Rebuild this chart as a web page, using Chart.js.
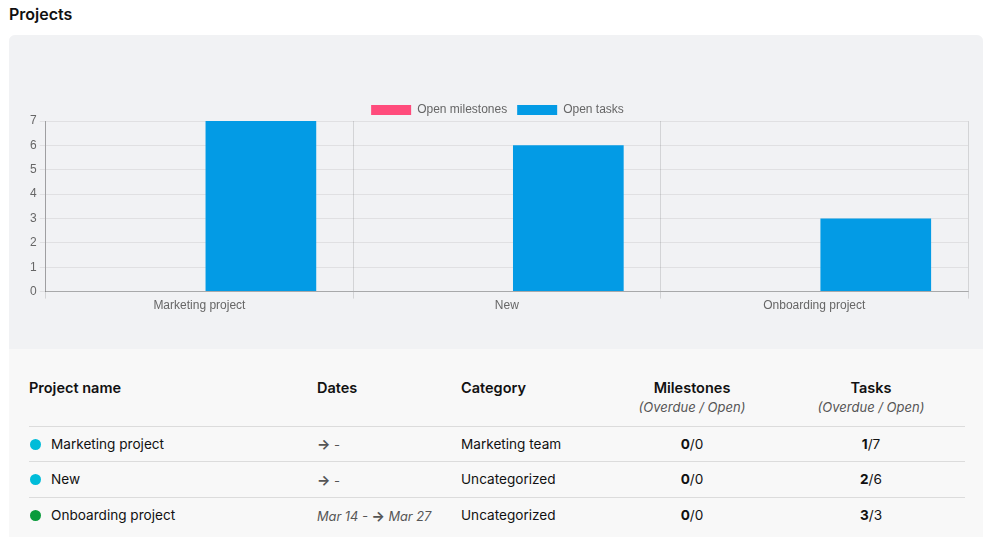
<!DOCTYPE html>
<html>
<head>
<meta charset="utf-8">
<script src="https://cdn.jsdelivr.net/npm/chart.js@4/dist/chart.umd.min.js"></script>
<style>
    html, body { margin: 0; padding: 0; background: #fff; }
    body { width: 983px; height: 537px; overflow: hidden; font-family: Inter, "Noto Sans", sans-serif; color: #111; }
    h2 { position: absolute; left: 9px; top: 4px; margin: 0; font-size: 16px; font-weight: 600; }
    .panel { position: absolute; left: 9px; top: 35px; width: 974px; height: 502px; background: #f8f8f8; border-radius: 6px 6px 0 0; overflow: hidden; }
    .chart-box { position: relative; width: 974px; height: 314px; background: #f1f2f4; }
    table { position: absolute; left: 20px; top: 334px; width: 936px; border-collapse: collapse; font-size: 13.6px; }
    th { font-weight: 600; font-size: 14.5px; text-align: left; padding: 10px 0 0 0; }
    th.c, td.c { text-align: center; }
    .sub { font-style: italic; font-weight: 400; font-size: 13px; color: #555; display: block; margin-top: 3px; }
    thead tr { height: 57px; vertical-align: top; }
    tbody tr { height: 35.5px; border-top: 1px solid #dcdcdc; }
    td { padding: 0; vertical-align: middle; }
    .dot { display: inline-block; width: 11px; height: 11px; border-radius: 50%; margin: 0 10px 0 1px; vertical-align: -1px; }
    .dates { color: #555; font-style: italic; font-size: 12.8px; }
    .arr { font-style: normal; font-weight: 700; font-size: 14px; }
</style>
</head>
<body>
<h2>Projects</h2>
<div class="panel">
    <div class="chart-box"><canvas id="projectsChart"></canvas></div>
    <table>
        <thead>
            <tr>
                <th style="width:288px">Project name</th>
                <th style="width:144px">Dates</th>
                <th style="width:146px">Category</th>
                <th class="c" style="width:170px">Milestones<span class="sub">(Overdue / Open)</span></th>
                <th class="c">Tasks<span class="sub">(Overdue / Open)</span></th>
            </tr>
        </thead>
        <tbody id="rows"></tbody>
    </table>
</div>
<script>
    const projects = ['Marketing project', 'New', 'Onboarding project'];
    const openMilestones = [0, 0, 0];
    const openTasks = [7, 6, 3];
    const overdueMilestones = [0, 0, 0];
    const overdueTasks = [1, 2, 3];
    const categories = ['Marketing team', 'Uncategorized', 'Uncategorized'];
    const dates = [['', ''], ['', ''], ['Mar 14', 'Mar 27']];
    const dotColors = ['#00bcd9', '#00bcd9', '#0a9b3b'];

    // table rows
    const rows = document.getElementById('rows');
    projects.forEach((name, i) => {
        const tr = document.createElement('tr');
        const [from, to] = dates[i];
        const dateHtml = from
            ? `${from} - <span class="arr">&#8594;</span> ${to}`
            : `<span class="arr">&#8594;</span> -`;
        tr.innerHTML = `
            <td><span class="dot" style="background:${dotColors[i]}"></span>${name}</td>
            <td class="dates">${dateHtml}</td>
            <td>${categories[i]}</td>
            <td class="c"><b>${overdueMilestones[i]}</b>/${openMilestones[i]}</td>
            <td class="c"><b>${overdueTasks[i]}</b>/${openTasks[i]}</td>`;
        rows.appendChild(tr);
    });

    Chart.defaults.font.family = '"Liberation Sans", Arial, sans-serif';
    Chart.defaults.font.size = 12;
    Chart.defaults.color = '#666';

    // pull the chart area up under the legend a little
    const tightLegend = {
        id: 'tightLegend',
        beforeInit(chart) {
            const fit = chart.legend.fit;
            chart.legend.fit = function () {
                fit.bind(chart.legend)();
                this.height -= 5;
            };
        }
    };

    const projectsChart = new Chart(document.getElementById('projectsChart'), {
        type: 'bar',
        data: {
            labels: projects,
            datasets: [{
                label: 'Open milestones',
                data: openMilestones,
                backgroundColor: '#ff4c7c',
            }, {
                label: 'Open tasks',
                data: openTasks,
                backgroundColor: '#039be5',
            }]
        },
        options: {
            responsive: true,
            maintainAspectRatio: false,
            animation: false,
            layout: { padding: { top: 59, left: 18, right: 15, bottom: 36 } },
            plugins: {
                legend: { labels: { boxWidth: 40, boxHeight: 10 } },
                tooltip: { enabled: false }
            },
            scales: {
                x: {
                    grid: { color: 'rgba(0,0,0,0.12)', offset: true, tickLength: 7 },
                    ticks: { padding: 0 },
                    border: { color: 'rgba(0,0,0,0.25)' }
                },
                y: {
                    beginAtZero: true,
                    max: 7,
                    ticks: { stepSize: 1 },
                    grid: { color: 'rgba(0,0,0,0.07)', tickLength: 6 },
                    border: { color: 'rgba(0,0,0,0.25)' }
                }
            }
        },
        plugins: [tightLegend]
    });
</script>
</body>
</html>
